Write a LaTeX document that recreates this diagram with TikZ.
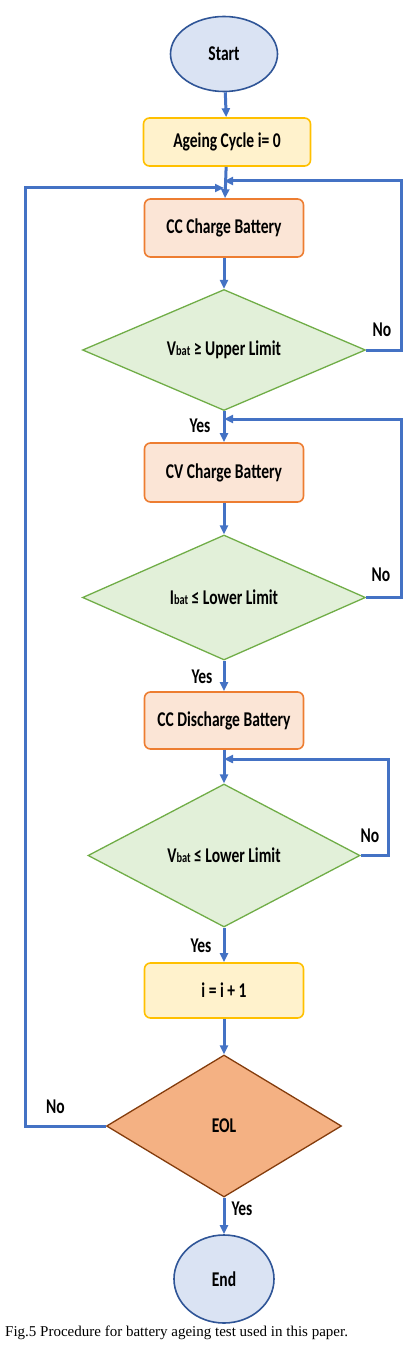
\documentclass[tikz,border=0pt]{standalone}
\usepackage{fontspec}
\usetikzlibrary{arrows.meta,positioning,shapes.geometric}
\newfontfamily\chartfam[FakeStretch=0.74]{Carlito}
\newfontfamily\capfam{Liberation Serif}
\definecolor{flowblue}{HTML}{4472C4}
\definecolor{termfill}{HTML}{DAE3F3}
\definecolor{termline}{HTML}{2F5597}
\definecolor{procfill}{HTML}{FBE5D6}
\definecolor{procline}{HTML}{ED7D31}
\definecolor{countfill}{HTML}{FFF2CC}
\definecolor{countline}{HTML}{FFC000}
\definecolor{testfill}{HTML}{E2F0D9}
\definecolor{testline}{HTML}{70AD47}
\definecolor{eolfill}{HTML}{F4B183}
\definecolor{eolline}{HTML}{843C0C}
\newcommand{\chartfont}{\chartfam\bfseries\fontsize{21}{23}\selectfont}
\newcommand{\sub}[1]{{\fontsize{14}{14}\selectfont #1}}

\begin{document}
\begin{tikzpicture}[x=10pt,y=10pt,
  term/.style={ellipse,draw=termline,fill=termfill,line width=1.6pt,inner sep=0pt,font=\chartfont},
  procbox/.style={rectangle,rounded corners=6pt,draw=procline,fill=procfill,line width=1.6pt,
    minimum width=159pt,minimum height=57pt,inner sep=0pt,font=\chartfont},
  countbox/.style={procbox,draw=countline,fill=countfill},
  testbox/.style={diamond,aspect=2.3,draw=testline,fill=testfill,line width=1.3pt,inner sep=0pt,font=\chartfont},
  eolbox/.style={testbox,draw=eolline,fill=eolfill},
  flow/.style={draw=flowblue,line width=3pt,-{Triangle[length=9pt,width=8pt]}},
  lbl/.style={font=\chartfont}]
  \useasboundingbox (0,0) rectangle (40.2,-135.1);

  % main column
  \node[term,minimum width=107pt,minimum height=75pt] (start) at (22.4,-5.4) {Start};
  \node[countbox,minimum width=167pt,minimum height=48pt] (age) at (22.7,-14.2) {Ageing Cycle i= 0};
  \node[procbox,minimum height=58pt] (ccchg) at (22.4,-22.8) {CC Charge Battery};
  \node[testbox,minimum width=283pt,minimum height=121pt] (vup) at (22.4,-35.0) {V\sub{bat} ≥ Upper Limit};
  \node[procbox,minimum height=59pt] (cvchg) at (22.4,-47.25) {CV Charge Battery};
  \node[testbox,minimum width=283pt,minimum height=125pt] (ilow) at (22.4,-59.75) {I\sub{bat} ≤ Lower Limit};
  \node[procbox] (ccdis) at (22.4,-72.05) {CC Discharge Battery};
  \node[testbox,minimum width=272pt,minimum height=143pt] (vlow) at (22.4,-85.55) {V\sub{bat} ≤ Lower Limit};
  \node[countbox,minimum height=55pt] (incr) at (22.4,-99.05) {i = i + 1};
  \node[eolbox,minimum width=235pt,minimum height=142pt] (eol) at (22.4,-112.6) {EOL};
  \node[term,minimum width=100pt,minimum height=88pt] (stop) at (22.4,-127.9) {End};

  % junctions and rails of the loops
  \coordinate (jright) at (22.4,-18.1);
  \coordinate (jleft) at (22.4,-18.8);
  \coordinate (jcv) at (22.4,-41.9);
  \coordinate (jdis) at (22.4,-75.9);
  \coordinate (railup) at (40.1,-18.1);
  \coordinate (railcv) at (40.1,-41.9);
  \coordinate (raildis) at (38.8,-75.9);
  \coordinate (railleft) at (2.5,-18.8);

  % forward flow
  \draw[flow] (start) -- (age);
  \draw[flow] (age) -- (ccchg);
  \draw[flow] (ccchg) -- (vup);
  \draw[flow] (vup) -- (cvchg);
  \draw[flow] (cvchg) -- (ilow);
  \draw[flow] (ilow) -- (ccdis);
  \draw[flow] (ccdis) -- (vlow);
  \draw[flow] (vlow) -- (incr);
  \draw[flow] (incr) -- (eol);
  \draw[flow] (eol) -- (stop);

  % loops back
  \draw[flow] (vup.east) -| (railup) -- (jright);
  \draw[flow] (ilow.east) -| (railcv) -- (jcv);
  \draw[flow] (vlow.east) -| (raildis) -- (jdis);
  \draw[flow] (eol.west) -| (railleft) -- (jleft);

  % branch labels
  \node[lbl] (noup) at (38.2,-33.0) {No};
  \node[lbl] (yesup) at (20.0,-42.6) {Yes};
  \node[lbl] (nocv) at (38.1,-57.5) {No};
  \node[lbl] (yescv) at (20.2,-67.7) {Yes};
  \node[lbl] (nodis) at (37.0,-83.6) {No};
  \node[lbl] (yesdis) at (20.1,-94.6) {Yes};
  \node[lbl] (noeol) at (5.55,-110.7) {No};
  \node[lbl] (yeseol) at (24.2,-120.9) {Yes};

  % caption
  \node[font=\capfam\fontsize{15}{17}\selectfont,anchor=base west,inner sep=0pt] (caption) at (0.5,-133.6)
    {Fig.5 Procedure for battery ageing test used in this paper.};
\end{tikzpicture}
\end{document}
